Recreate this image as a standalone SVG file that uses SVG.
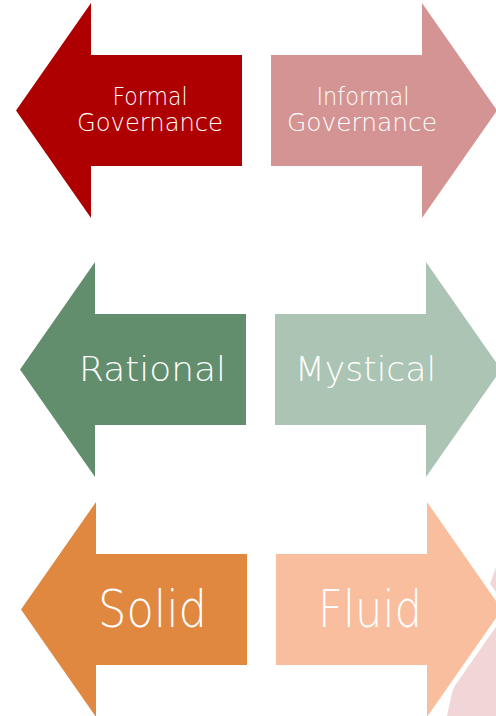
<svg xmlns="http://www.w3.org/2000/svg" width="496" height="716" viewBox="0 0 496 716">
  <style>
    .arrow { stroke: #FFFFFF; stroke-width: 10; paint-order: stroke; stroke-linejoin: miter; }
    .lbl { font-family: "DejaVu Sans", "Liberation Sans", sans-serif; fill: #FFFFFF; text-anchor: middle; font-weight: 300; }
    .s1 { font-size: 24px; }
    .s2 { font-size: 33px; }
    .s3 { font-size: 51px; }
  </style>
  <rect width="496" height="716" fill="#FFFFFF"/>
  <polygon id="backdrop" points="496,567 452,693 447,716 496,716" fill="#F2D5D6"/>

  <g id="formal-governance">
    <polygon class="arrow" points="16,110.5 91,3 91,55 242,55 242,166 91,166 91,218" fill="#AE0000"/>
    <text class="lbl s1" x="150" y="105" textLength="75" lengthAdjust="spacingAndGlyphs">Formal</text>
    <text class="lbl s1" x="150" y="131" textLength="146" lengthAdjust="spacingAndGlyphs">Governance</text>
  </g>
  <g id="informal-governance">
    <polygon class="arrow" points="497,110.5 422,3 422,55 271,55 271,166 422,166 422,218" fill="#D59494"/>
    <text class="lbl s1" x="363" y="105" textLength="93" lengthAdjust="spacingAndGlyphs">Informal</text>
    <text class="lbl s1" x="362" y="131" textLength="150" lengthAdjust="spacingAndGlyphs">Governance</text>
  </g>

  <g id="rational">
    <polygon class="arrow" points="20,369.5 95,262 95,314 246,314 246,425 95,425 95,477" fill="#628E6E"/>
    <text class="lbl s2" x="152.5" y="381" textLength="147" lengthAdjust="spacingAndGlyphs">Rational</text>
  </g>
  <g id="mystical">
    <polygon class="arrow" points="501,369.5 426,262 426,314 275,314 275,425 426,425 426,477" fill="#ABC4B3"/>
    <text class="lbl s2" x="365.5" y="381" textLength="141" lengthAdjust="spacingAndGlyphs">Mystical</text>
  </g>

  <g id="solid">
    <polygon class="arrow" points="21,609.5 96,502 96,554 247,554 247,665 96,665 96,717" fill="#E08840"/>
    <text class="lbl s3" x="152.5" y="627" textLength="109" lengthAdjust="spacingAndGlyphs">Solid</text>
  </g>
  <g id="fluid">
    <polygon class="arrow" points="502,609.5 427,502 427,554 276,554 276,665 427,665 427,717" fill="#F8BE9D"/>
    <text class="lbl s3" x="370" y="627" textLength="104" lengthAdjust="spacingAndGlyphs">Fluid</text>
  </g>

  <g id="connectors"></g>
</svg>
